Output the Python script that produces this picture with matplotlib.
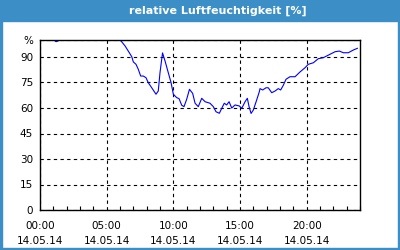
import matplotlib
matplotlib.use("Agg")
import matplotlib.pyplot as plt
from matplotlib.patches import Rectangle

title = "relative Luftfeuchtigkeit [%]"
hours = [0.0, 0.9, 1.05, 1.2, 1.35, 1.5, 3.0, 5.0, 6.08, 6.38, 6.62, 6.88, 7.0, 7.2, 7.37, 7.55,
         7.75, 7.95, 8.12, 8.38, 8.7, 8.87, 9.0, 9.19, 9.38, 9.62, 9.83, 10.0, 10.25, 10.43,
         10.63, 10.8, 11.0, 11.21, 11.45, 11.63, 11.87, 12.13, 12.38, 12.75, 13.0, 13.2, 13.45,
         13.63, 13.82, 14.0, 14.18, 14.38, 14.63, 14.95, 15.13, 15.38, 15.55, 15.68, 15.83, 16.0,
         16.25, 16.45, 16.5, 16.7, 16.95, 17.12, 17.38, 17.63, 17.87, 18.05, 18.25, 18.45, 18.75,
         19.13, 19.5, 19.88, 20.12, 20.5, 20.87, 21.25, 21.75, 22.13, 22.45, 22.75, 23.12, 23.5, 23.8]
humidity = [102, 101, 100, 99.0, 99.4, 100.6, 104, 104, 99.4, 96.5, 93.5, 90.2, 87.1, 85.7, 82.8, 78.8,
            78.8, 77.8, 74.9, 71.9, 68.1, 70.0, 80.8, 92.4, 87.6, 80.8, 74.9, 68.1, 66.1, 65.5,
            61.6, 60.8, 65.1, 71.0, 68.6, 62.8, 60.8, 65.7, 63.7, 62.8, 60.8, 57.8, 56.9,
            59.8, 62.8, 61.8, 63.7, 60.0, 61.8, 61.2, 59.8, 63.7, 65.7, 60.8, 56.8, 58.8,
            64.7, 69.6, 71.4, 70.6, 71.9, 71.9, 69.0, 70.0, 71.4, 70.6, 73.4, 76.9, 78.4,
            78.4, 81.2, 83.7, 85.7, 86.6, 89.0, 89.6, 91.6, 93.1, 93.5, 92.5, 92.5, 94.1, 95.1]
x_ticks = [0, 5, 10, 15, 20]
x_labels = ["00:00\n14.05.14", "05:00\n14.05.14", "10:00\n14.05.14", "15:00\n14.05.14", "20:00\n14.05.14"]
y_ticks = [0, 15, 30, 45, 60, 75, 90, 100]
y_labels = ["0", "15", "30", "45", "60", "75", "90", "%"]

W, H = 400, 250
fig = plt.figure(figsize=(W / 100, H / 100), dpi=100)
fig.patch.set_facecolor("white")
blue = "#3b8fc6"
# title bar and frame
fig.patches.append(Rectangle((0, 1 - 21 / H), 1, 21 / H, transform=fig.transFigure, color=blue, zorder=0))
fig.patches.append(Rectangle((0, 0), 2 / W, 1, transform=fig.transFigure, color=blue, zorder=0))
fig.patches.append(Rectangle((1 - 2 / W, 0), 2 / W, 1, transform=fig.transFigure, color=blue, zorder=0))
fig.patches.append(Rectangle((0, 0), 1, 2 / H, transform=fig.transFigure, color=blue, zorder=0))
fig.text(218 / W, 1 - 10.5 / H, title, color="white", fontsize=8, fontweight="bold",
         ha="center", va="center")

ax = fig.add_axes([40 / W, 1 - 210 / H, 320 / W, 170 / H])
ax.plot(hours, humidity, color="#0000ff", lw=0.8, clip_on=True)
ax.set_xlim(0, 24)
ax.set_ylim(0, 100)
ax.set_xticks(x_ticks)
ax.set_xticklabels(x_labels, fontsize=7.5, linespacing=1.6)
ax.set_xticks(range(0, 25), minor=True)
ax.set_yticks(y_ticks)
ax.set_yticklabels(y_labels, fontsize=7.5)
ax.tick_params(axis="x", which="both", direction="in", length=3, width=0.8, pad=8)
ax.tick_params(axis="y", length=0, pad=5)
ax.tick_params(axis="x", which="major", length=0)
for s in ax.spines.values():
    s.set_linewidth(1.0)
    s.set_color("black")
ax.grid(True, which="major", color="black", linestyle=(0, (3, 3)), linewidth=0.8)
ax.set_axisbelow(True)

fig.savefig("out.png", dpi=100)
